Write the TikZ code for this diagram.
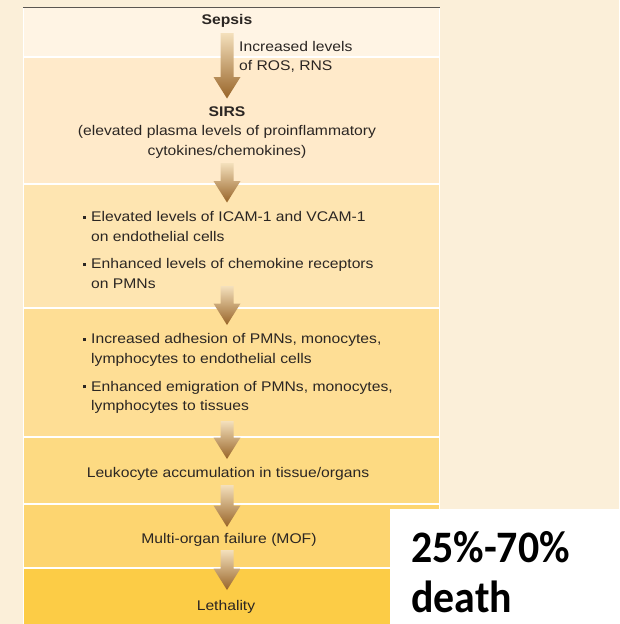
\documentclass[tikz,border=0pt]{standalone}
\usepackage{fontspec}
\setmainfont{Liberation Sans}
\newfontfamily\chartfont[FakeStretch=1.12]{Liberation Sans}
\newfontfamily\notefont[FakeStretch=0.93]{Carlito}
\usetikzlibrary{positioning}

\definecolor{paper}{HTML}{FBEFD9}
\definecolor{bandA}{HTML}{FFF4E4}
\definecolor{bandB}{HTML}{FFEACA}
\definecolor{bandC}{HTML}{FEE5B1}
\definecolor{bandD}{HTML}{FEDE95}
\definecolor{bandE}{HTML}{FDDA82}
\definecolor{bandF}{HTML}{FDD570}
\definecolor{bandG}{HTML}{FCCC46}
\definecolor{rulegray}{HTML}{5B5651}
\definecolor{ink}{HTML}{2B2623}
\definecolor{arrowtop}{HTML}{F4E0BC}
\definecolor{arrowmid}{HTML}{C89C5C}
\definecolor{arrowtip}{HTML}{986428}

% small square bullet in front of each list item
\newcommand{\sqbul}{\makebox[8.5pt][l]{\raisebox{3pt}{\rule{3pt}{3pt}}}}

% fat shaded arrow from coordinate #1 down to tip coordinate #2
\newcommand{\flowarrow}[2]{%
  \shade[top color=arrowtop, middle color=arrowmid, bottom color=arrowtip]
    ([xshift=-6.5pt]#1) -- ([xshift=6.5pt]#1) -- ([xshift=6.5pt,yshift=21.5pt]#2)
    -- ([xshift=13.5pt,yshift=21.5pt]#2) -- (#2) -- ([xshift=-13.5pt,yshift=21.5pt]#2)
    -- ([xshift=-6.5pt,yshift=21.5pt]#2) -- cycle;}

\tikzset{
  stage/.style={font=\chartfont\fontsize{14}{19.5}\selectfont, text=ink, align=center, inner sep=0pt},
  item/.style={stage, align=left, anchor=west},
  sep/.style={white, line width=1.2pt},
  note/.style={font=\notefont\bfseries\fontsize{45}{50}\selectfont, text=black, anchor=base west, inner sep=0pt}
}

\begin{document}
\begin{tikzpicture}[x=1pt, y=-1pt]
\useasboundingbox (0,0) rectangle (619,624);
\fill[paper] (0,0) rectangle (619,624);

% coloured bands
\fill[bandA] (23,8) rectangle (440,57);
\fill[bandB] (23,57) rectangle (440,184);
\fill[bandC] (23,184) rectangle (440,308);
\fill[bandD] (23,308) rectangle (440,437);
\fill[bandE] (23,437) rectangle (440,504);
\fill[bandF] (23,504) rectangle (440,568);
\fill[bandG] (23,568) rectangle (440,624);
\foreach \y in {57,184,308,437,504,568}
  \draw[sep] (23,\y) -- (440,\y);
\draw[sep] (23.5,8) -- (23.5,624);
\draw[sep] (439.5,8) -- (439.5,624);
\draw[rulegray, line width=1.5pt] (23,7.5) -- (440,7.5);

% stages
\node[stage, font=\chartfont\bfseries\fontsize{14}{19.5}\selectfont] (sepsis) at (227,21) {Sepsis};
\node[stage, anchor=west, align=left] (ros) at (239,57) {Increased levels\\of ROS, RNS};
\node[stage] (sirs) at (227,132.5) {\textbf{SIRS}\\(elevated plasma levels of proinflammatory\\cytokines/chemokines)};
\node[item] (icam) at (82.5,226.5) {\sqbul Elevated levels of ICAM-1 and VCAM-1\\\hspace*{8.5pt}on endothelial cells};
\node[item] (ccr) at (82.5,273.5) {\sqbul Enhanced levels of chemokine receptors\\\hspace*{8.5pt}on PMNs};
\node[item] (adhesion) at (82.5,350) {\sqbul Increased adhesion of PMNs, monocytes,\\\hspace*{8.5pt}lymphocytes to endothelial cells};
\node[item] (emigration) at (82.5,397.5) {\sqbul Enhanced emigration of PMNs, monocytes,\\\hspace*{8.5pt}lymphocytes to tissues};
\node[stage] (leuko) at (228,474) {Leukocyte accumulation in tissue/organs};
\node[stage] (mof) at (229,540) {Multi-organ failure (MOF)};
\node[stage] (lethal) at (226,607) {Lethality};

% arrows between the stages
\coordinate (s1) at (227,33);  \coordinate (t1) at (227,98.5);
\coordinate (s2) at (227,163); \coordinate (t2) at (227,202.5);
\coordinate (s3) at (227,286); \coordinate (t3) at (227,325);
\coordinate (s4) at (227,421); \coordinate (t4) at (227,459);
\coordinate (s5) at (227,485); \coordinate (t5) at (227,527);
\coordinate (s6) at (227,550); \coordinate (t6) at (227,590);
\foreach \i in {1,...,6}
  \flowarrow{s\i}{t\i};

% mortality box
\fill[white] (390,509) rectangle (619,624);
\node[note] (rate) at (411,562) {25\%-70\%};
\node[note] (death) at (411,612) {death};

\end{tikzpicture}
\end{document}
